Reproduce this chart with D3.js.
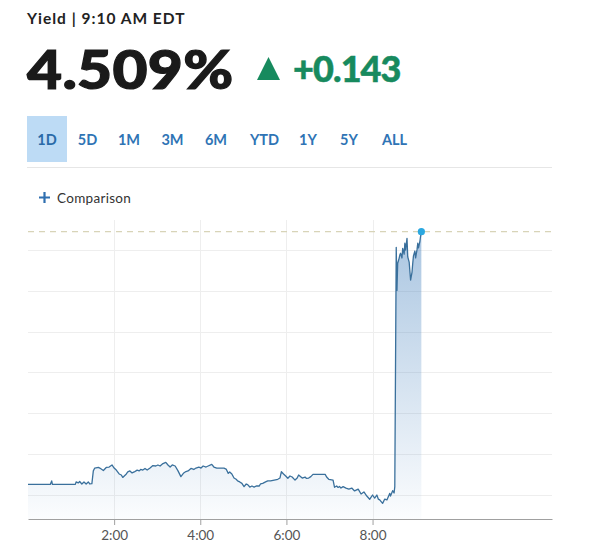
<!DOCTYPE html>
<html>
<head>
<meta charset="utf-8">
<script src="https://cdn.jsdelivr.net/npm/d3@7"></script>
<style>
  html, body { margin: 0; padding: 0; background: #fff; }
  svg { display: block; font-family: Lato, "Open Sans", sans-serif; }
</style>
</head>
<body>
<svg id="chart" width="613" height="553"></svg>
<script>
// ---- data ----
const headerLabel = "Yield | 9:10 AM EDT";
const lastYield = 4.509;
const change = "+0.143";
const ranges = ["1D", "5D", "1M", "3M", "6M", "YTD", "1Y", "5Y", "ALL"];
const activeRange = "1D";
// minutes since midnight
const times = [0,31,33,34,66,67,70,72,75,78,81,84,86,89,91,93,98,100,105,109,113,117,120,123,127,130,132,137,139,142,145,148,152,155,157,160,163,166,170,174,178,181,184,188,192,195,198,201,205,209,213,217,220,223,227,231,234,238,241,244,248,251,256,259,263,267,273,276,279,281,284,287,290,292,295,298,301,304,306,309,312,315,318,322,324,327,331,334,338,343,348,351,353,356,359,362,365,368,372,375,377,382,386,388,391,394,397,414,416,419,425,427,430,432,434,436,439,443,447,451,455,460,464,468,472,476,478,480,483,486,488,490,494,497,500,503,504,505,508,510,511,513,514,515,517,518,519,521,522,524,525,526,528,529,531,533,535,536,537,539,540,542,543,544,546,547,548];
const yields = [4.3852,4.3852,4.3869,4.3852,4.3852,4.3864,4.3859,4.3866,4.3854,4.3864,4.3854,4.3864,4.3854,4.3856,4.3918,4.3932,4.3935,4.3932,4.3920,4.3935,4.3937,4.3947,4.3932,4.3922,4.3903,4.3898,4.3886,4.3903,4.3913,4.3918,4.3908,4.3913,4.3922,4.3918,4.3925,4.3922,4.3930,4.3922,4.3932,4.3944,4.3942,4.3947,4.3942,4.3954,4.3960,4.3947,4.3937,4.3947,4.3942,4.3918,4.3890,4.3908,4.3915,4.3918,4.3930,4.3925,4.3932,4.3937,4.3932,4.3942,4.3937,4.3942,4.3950,4.3937,4.3932,4.3932,4.3932,4.3927,4.3906,4.3913,4.3903,4.3883,4.3877,4.3869,4.3864,4.3857,4.3841,4.3854,4.3851,4.3839,4.3844,4.3839,4.3844,4.3844,4.3854,4.3857,4.3864,4.3869,4.3869,4.3873,4.3877,4.3883,4.3914,4.3903,4.3893,4.3882,4.3893,4.3888,4.3873,4.3883,4.3898,4.3883,4.3888,4.3881,4.3883,4.3890,4.3901,4.3901,4.3888,4.3877,4.3873,4.3838,4.3844,4.3837,4.3842,4.3834,4.3841,4.3834,4.3829,4.3834,4.3820,4.3829,4.3805,4.3815,4.3795,4.3779,4.3790,4.3800,4.3785,4.3800,4.3780,4.3776,4.3759,4.3780,4.3776,4.3800,4.3808,4.3795,4.3821,4.3810,4.3841,4.5013,4.4802,4.4935,4.4959,4.4975,4.4984,4.4961,4.5008,4.4980,4.5033,4.5000,4.5057,4.4967,4.4941,4.4853,4.4892,4.4935,4.4971,4.4995,4.4961,4.5003,4.5033,4.5010,4.5044,4.5069,4.5090];
const xDomain = [0, 730];          // minutes
const xTickValues = [120, 240, 360, 480];
const yGridValues = [4.38, 4.40, 4.42, 4.44, 4.46, 4.48, 4.50];

const data = times.map((t, i) => ({ t, v: yields[i] }));

// ---- layout ----
const svg = d3.select("#chart");
const plot = { left: 28, right: 552, top: 220, bottom: 519 };

const x = d3.scaleLinear().domain(xDomain).range([plot.left, plot.right]);
const y = d3.scaleLinear().domain([4.38, 4.50]).range([495, 250]);

// header
svg.append("text").attr("x", 27).attr("y", 24)
  .attr("font-size", 15.5).attr("font-weight", 700).attr("fill", "#222")
  .attr("letter-spacing", "1")
  .text(headerLabel);

svg.append("g").attr("transform", "translate(27,89) scale(1.14,1)")
  .append("text").attr("x", 0).attr("y", 0)
  .attr("font-size", 53).attr("font-weight", 900).attr("fill", "#1a1a1a")
  .attr("stroke", "#1a1a1a").attr("stroke-width", 1.2)
  .attr("letter-spacing", "0.3")
  .text(lastYield.toFixed(3) + "%");

const green = "#178a5e";
svg.append("path")
  .attr("d", d3.line()([[257, 80], [268.5, 57], [280, 80]]) + "Z")
  .attr("fill", green);
svg.append("text").attr("x", 293).attr("y", 82)
  .attr("font-size", 36).attr("font-weight", 900).attr("fill", green)
  .attr("stroke", green).attr("stroke-width", 0.5)
  .attr("letter-spacing", "-0.9")
  .text(change);

// range buttons
const btnCenters = [47, 87.5, 129, 172.5, 216, 264.5, 308, 349, 394.5];
svg.append("rect").attr("x", 27).attr("y", 116).attr("width", 40).attr("height", 46)
  .attr("fill", "#bddbf5");
svg.selectAll("text.range").data(ranges).join("text")
  .attr("class", "range")
  .attr("x", (d, i) => btnCenters[i]).attr("y", 145)
  .attr("text-anchor", "middle").attr("font-size", 14.5).attr("font-weight", 700)
  .attr("fill", d => d === activeRange ? "#2a6aa8" : "#2f74b5")
  .text(d => d);
svg.append("line").attr("x1", 27).attr("x2", 552).attr("y1", 167.5).attr("y2", 167.5)
  .attr("stroke", "#e6e6e6");

// comparison
svg.append("path").attr("d", "M39,197.5H50M44.5,192V203")
  .attr("stroke", "#2f6fb0").attr("stroke-width", 2.2);
svg.append("text").attr("x", 57).attr("y", 203)
  .attr("font-size", 13.5).attr("fill", "#333").attr("letter-spacing", "0.3").text("Comparison");

// grid
svg.append("g").selectAll("line").data(yGridValues).join("line")
  .attr("x1", plot.left).attr("x2", plot.right)
  .attr("y1", d => Math.round(y(d)) + 0.5).attr("y2", d => Math.round(y(d)) + 0.5)
  .attr("stroke", "#eeeeee");
svg.append("g").selectAll("line").data(xTickValues).join("line")
  .attr("x1", d => Math.round(x(d)) + 0.5).attr("x2", d => Math.round(x(d)) + 0.5)
  .attr("y1", plot.top).attr("y2", plot.bottom)
  .attr("stroke", "#eeeeee");

// area gradient
const defs = svg.append("defs");
const grad = defs.append("linearGradient").attr("id", "areaGrad")
  .attr("gradientUnits", "userSpaceOnUse")
  .attr("x1", 0).attr("x2", 0).attr("y1", y(lastYield)).attr("y2", plot.bottom);
grad.append("stop").attr("offset", 0).attr("stop-color", "rgb(70,130,190)").attr("stop-opacity", 0.46);
grad.append("stop").attr("offset", 1).attr("stop-color", "rgb(70,130,190)").attr("stop-opacity", 0.02);

svg.append("path").datum(data)
  .attr("d", d3.area().x(d => x(d.t)).y0(plot.bottom).y1(d => y(d.v)))
  .attr("fill", "url(#areaGrad)");

// last-value dashed line
svg.append("line").attr("x1", plot.left).attr("x2", plot.right)
  .attr("y1", y(lastYield)).attr("y2", y(lastYield))
  .attr("stroke", "#d8d4b8").attr("stroke-width", 1.2).attr("stroke-dasharray", "6,5");

// line
svg.append("path").datum(data)
  .attr("d", d3.line().x(d => x(d.t)).y(d => y(d.v)))
  .attr("fill", "none").attr("stroke", "#3a709c").attr("stroke-width", 1.3)
  .attr("stroke-linejoin", "round");

// end dot
const last = data[data.length - 1];
svg.append("circle").attr("cx", x(last.t)).attr("cy", y(last.v)).attr("r", 3.6)
  .attr("fill", "#2ba8e0");

// x axis
const fmt = m => `${Math.floor(m / 60)}:${String(m % 60).padStart(2, "0")}`;
const axis = svg.append("g").attr("transform", `translate(0,${plot.bottom})`)
  .call(d3.axisBottom(x).tickValues(xTickValues).tickFormat(fmt).tickSize(6).tickSizeOuter(0));
axis.select(".domain").attr("stroke", "#a0a0a0");
axis.selectAll(".tick line").attr("stroke", "#a0a0a0");
axis.selectAll(".tick text").attr("font-family", "Lato, sans-serif").attr("font-size", 13.5)
  .attr("fill", "#555").attr("dy", "0.9em");
</script>
</body>
</html>
